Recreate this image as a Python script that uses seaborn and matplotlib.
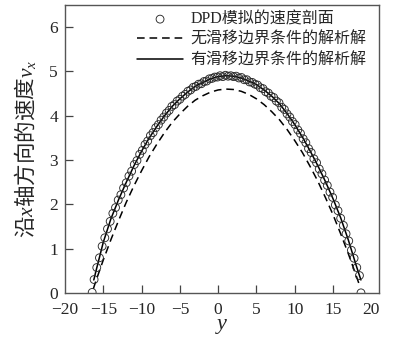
import matplotlib
matplotlib.use("Agg")
import matplotlib.pyplot as plt
import seaborn as sns

# DPD simulated velocity profile (y position, velocity v_x)
dpd_y = [-16.45, -16.2, -15.85, -15.5, -15.15, -14.8, -14.45, -14.1, -13.75, -13.4,
         -13.05, -12.7, -12.35, -12.0, -11.65, -11.3, -10.95, -10.6, -10.25, -9.9,
         -9.55, -9.2, -8.85, -8.5, -8.15, -7.8, -7.45, -7.1, -6.75, -6.4,
         -6.05, -5.7, -5.35, -5.0, -4.65, -4.3, -3.95, -3.6, -3.25, -2.9,
         -2.55, -2.2, -1.85, -1.5, -1.15, -0.8, -0.45, -0.1, 0.25, 0.6,
         0.95, 1.3, 1.65, 2.0, 2.35, 2.7, 3.05, 3.4, 3.75, 4.1,
         4.45, 4.8, 5.15, 5.5, 5.85, 6.2, 6.55, 6.9, 7.25, 7.6,
         7.95, 8.3, 8.65, 9.0, 9.35, 9.7, 10.05, 10.4, 10.75, 11.1,
         11.45, 11.8, 12.15, 12.5, 12.85, 13.2, 13.55, 13.9, 14.25, 14.6,
         14.95, 15.3, 15.65, 16.0, 16.35, 16.7, 17.05, 17.4, 17.75, 18.1,
         18.45, 18.65]
dpd_v = [0.02, 0.31, 0.58, 0.80, 1.06, 1.25, 1.45, 1.62, 1.80, 1.93,
         2.10, 2.22, 2.37, 2.49, 2.64, 2.75, 2.90, 2.99, 3.13, 3.22,
         3.35, 3.43, 3.55, 3.62, 3.73, 3.80, 3.90, 3.97, 4.06, 4.12,
         4.21, 4.25, 4.33, 4.37, 4.44, 4.48, 4.55, 4.58, 4.64, 4.66,
         4.71, 4.72, 4.77, 4.78, 4.83, 4.84, 4.87, 4.87, 4.90, 4.88,
         4.91, 4.89, 4.90, 4.88, 4.89, 4.85, 4.86, 4.81, 4.81, 4.76,
         4.75, 4.71, 4.69, 4.63, 4.61, 4.54, 4.51, 4.44, 4.41, 4.33,
         4.29, 4.19, 4.14, 4.04, 3.97, 3.87, 3.80, 3.68, 3.60, 3.48,
         3.39, 3.26, 3.17, 3.03, 2.94, 2.80, 2.69, 2.55, 2.43, 2.28,
         2.16, 1.99, 1.86, 1.69, 1.53, 1.34, 1.18, 0.97, 0.79, 0.58,
         0.40, 0.01]

# analytical solution, no-slip boundary
noslip_y = [-16.3, -16, -15, -14, -13, -12, -11, -10, -9, -8, -7, -6, -5, -4, -3, -2, -1, 0,
            1, 2, 3, 4, 5, 6, 7, 8, 9, 10, 11, 12, 13, 14, 15, 16, 17, 18, 18.5]
noslip_v = [0.10, 0.26, 0.75, 1.21, 1.64, 2.05, 2.42, 2.76, 3.08, 3.36, 3.62, 3.85, 4.04, 4.21,
            4.35, 4.45, 4.53, 4.58, 4.60, 4.59, 4.55, 4.48, 4.38, 4.25, 4.09, 3.91, 3.69, 3.44,
            3.17, 2.86, 2.53, 2.16, 1.77, 1.34, 0.89, 0.41, 0.16]

# analytical solution, slip boundary
slip_y = [-16.24, -16, -15, -14, -13, -12, -11, -10, -9, -8, -7, -6, -5, -4, -3, -2, -1, 0,
          1, 2, 3, 4, 5, 6, 7, 8, 9, 10, 11, 12, 13, 14, 15, 16, 17, 18, 18.64]
slip_v = [0.30, 0.47, 1.15, 1.68, 2.11, 2.50, 2.87, 3.20, 3.50, 3.76, 4.00, 4.21, 4.38, 4.53,
          4.66, 4.75, 4.83, 4.88, 4.90, 4.89, 4.85, 4.78, 4.70, 4.58, 4.44, 4.27, 4.05, 3.80,
          3.52, 3.21, 2.88, 2.52, 2.13, 1.70, 1.20, 0.64, 0.30]

labels = ["DPD模拟的速度剖面", "无滑移边界条件的解析解", "有滑移边界条件的解析解"]
x_ticks = [-20, -15, -10, -5, 0, 5, 10, 15, 20]
y_ticks = [0, 1, 2, 3, 4, 5, 6]

sns.set_style("ticks")
plt.rcParams["font.family"] = ["Liberation Serif", "Noto Sans CJK SC"]
# math letters in a Times-like italic
plt.rcParams["mathtext.fontset"] = "custom"
plt.rcParams["mathtext.rm"] = "Liberation Serif"
plt.rcParams["mathtext.it"] = "Liberation Serif:italic"
plt.rcParams["axes.unicode_minus"] = True

fig = plt.figure(figsize=(3.97, 3.43), dpi=100)
ax = fig.add_axes([0.1637, 0.1449, 0.7909, 0.8414])

sns.lineplot(x=noslip_y, y=noslip_v, ax=ax, color="black", lw=1.1, sort=False, label=labels[1])
ax.lines[-1].set_dashes([5, 3.2])
sns.lineplot(x=slip_y, y=slip_v, ax=ax, color="black", lw=1.1, sort=False, label=labels[2])
sns.scatterplot(x=dpd_y, y=dpd_v, ax=ax, marker="o", s=32, facecolors="none",
                edgecolor="#2a2a2a", linewidth=0.65, label=labels[0], zorder=3)

ax.set_xlim(-20, 21)
ax.set_ylim(0, 6.5)
ax.set_xticks(x_ticks)
ax.set_yticks(y_ticks)
ax.xaxis.get_major_ticks()[0].tick1line.set_visible(False)
ax.xaxis.get_major_ticks()[-1].tick1line.set_visible(False)
ax.yaxis.get_major_ticks()[0].tick1line.set_visible(False)
ax.tick_params(direction="in", length=6, width=0.9, color="#444444",
               labelsize=12.5, top=False, right=False)
ax.tick_params(axis="x", pad=6.5)
ax.tick_params(axis="y", pad=5)

for sp in ax.spines.values():
    sp.set_visible(True)
    sp.set_color("#555555")
    sp.set_linewidth(1.0)

ax.set_xlabel("$y$", fontsize=16, labelpad=-1)
# non-math part of a mathtext label uses the label's own font, so give it the CJK family
ax.set_ylabel("沿$x$轴方向的速度$v_x$", fontsize=15.5, labelpad=8,
              family="Noto Sans CJK SC")

handles, labs = ax.get_legend_handles_labels()
order = [labs.index(l) for l in labels]
ax.legend([handles[i] for i in order], labels, loc="upper left",
          bbox_to_anchor=(0.229, 0.977), frameon=False, fontsize=11.5,
          handlelength=2.9, handletextpad=0.45, labelspacing=0.28,
          borderpad=0, borderaxespad=0)

fig.savefig("out.png", dpi=100)
